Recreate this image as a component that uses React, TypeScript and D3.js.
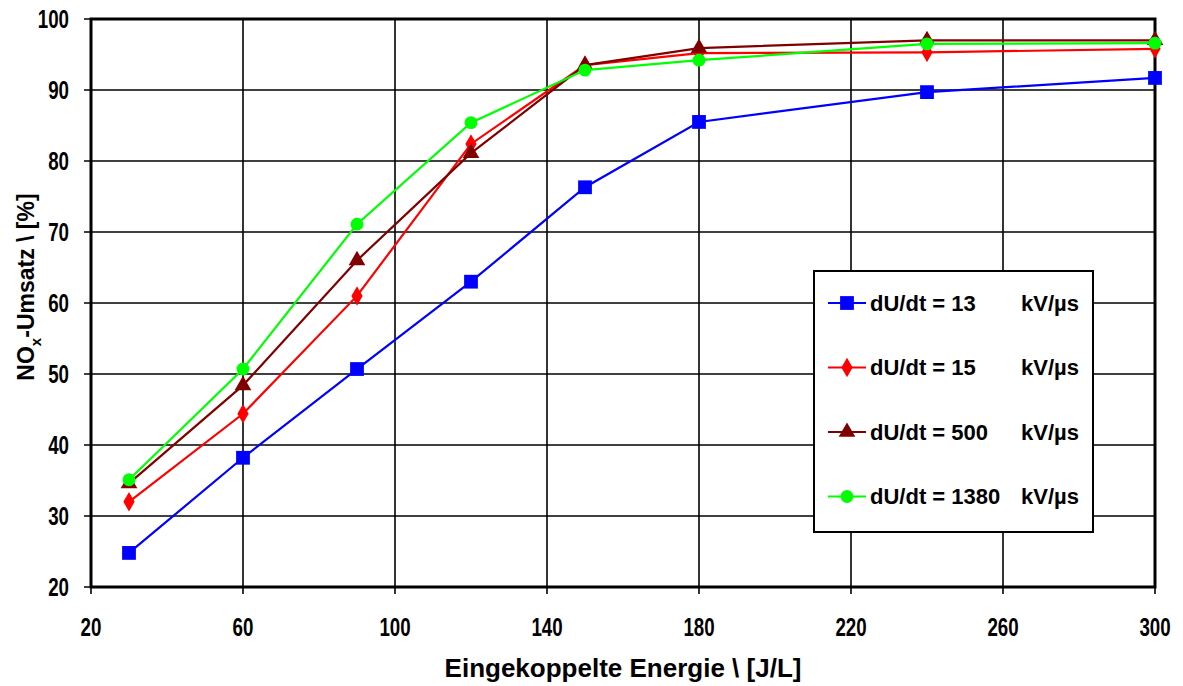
import { useEffect, useRef } from 'react';
import * as d3 from 'd3';

const energy = [30, 60, 90, 120, 150, 180, 240, 300];
const kv13 = [24.8, 38.2, 50.7, 63, 76.3, 85.5, 89.7, 91.7];
const kv15 = [32, 44.4, 61, 82.4, 93.5, 95.2, 95.3, 95.8];
const kv500 = [34.6, 48.4, 66, 81.1, 93.5, 95.9, 97, 97];
const kv1380 = [35.1, 50.7, 71.1, 85.4, 92.8, 94.2, 96.5, 96.6];

const xTicks = [20, 60, 100, 140, 180, 220, 260, 300];
const yTicks = [20, 30, 40, 50, 60, 70, 80, 90, 100];

const seriesLabels = ['dU/dt = 13', 'dU/dt = 15', 'dU/dt = 500', 'dU/dt = 1380'];
const seriesUnit = 'kV/µs';

const App = () => {
    const svgRef = useRef<SVGSVGElement | null>(null);

    useEffect(() => {
        if (!svgRef.current) return;
        const root = d3.select(svgRef.current);
        root.selectAll('*').remove();

        const W = 1183, H = 686;
        const margin = { top: 19, right: 28, bottom: 99, left: 91 };
        const width = W - margin.left - margin.right;
        const height = H - margin.top - margin.bottom;

        root.attr('width', W).attr('height', H);
        root.append('rect').attr('width', W).attr('height', H).attr('fill', '#fff');

        const svg = root.append('g')
            .attr('transform', `translate(${margin.left},${margin.top})`);

        const x = d3.scaleLinear().domain([20, 300]).range([0, width]);
        const y = d3.scaleLinear().domain([20, 100]).range([height, 0]);

        const font = "'Liberation Sans', Arial, sans-serif";

        // grid
        svg.append('g')
            .selectAll('line')
            .data(xTicks)
            .enter()
            .append('line')
            .attr('x1', d => x(d)).attr('x2', d => x(d))
            .attr('y1', 0).attr('y2', height + 7)
            .attr('stroke', '#000').attr('stroke-width', 1.6);

        svg.append('g')
            .selectAll('line')
            .data(yTicks)
            .enter()
            .append('line')
            .attr('x1', -7).attr('x2', width)
            .attr('y1', d => y(d)).attr('y2', d => y(d))
            .attr('stroke', '#000').attr('stroke-width', 1.6);

        // frame
        svg.append('rect')
            .attr('width', width).attr('height', height)
            .attr('fill', 'none')
            .attr('stroke', '#000')
            .attr('stroke-width', 3);

        // tick labels (narrow bold)
        svg.append('g')
            .selectAll('text')
            .data(xTicks)
            .enter()
            .append('text')
            .attr('transform', d => `translate(${x(d)},${height + 49}) scale(0.72,1)`)
            .attr('text-anchor', 'middle')
            .attr('font-family', font)
            .attr('font-weight', 700)
            .attr('font-size', 26)
            .text(d => d);

        svg.append('g')
            .selectAll('text')
            .data(yTicks)
            .enter()
            .append('text')
            .attr('transform', d => `translate(-22,${y(d)}) scale(0.72,1)`)
            .attr('dy', '0.36em')
            .attr('text-anchor', 'end')
            .attr('font-family', font)
            .attr('font-weight', 700)
            .attr('font-size', 26)
            .text(d => d);

        // axis titles
        svg.append('text')
            .attr('x', 623 - margin.left)
            .attr('y', 677 - margin.top)
            .attr('text-anchor', 'middle')
            .attr('font-family', font)
            .attr('font-weight', 700)
            .attr('font-size', 26)
            .text('Eingekoppelte Energie \\ [J/L]');

        const yt = svg.append('text')
            .attr('transform', `translate(-57,${287 - margin.top}) rotate(-90)`)
            .attr('text-anchor', 'middle')
            .attr('font-family', font)
            .attr('font-weight', 700)
            .attr('font-size', 23);
        yt.append('tspan').text('NO');
        yt.append('tspan').attr('font-size', 15).attr('dy', 7).text('x');
        yt.append('tspan').attr('dy', -7).text('-Umsatz \\ [%]');

        const series = [
            { values: kv13, color: '#0000ff', shape: 'square' },
            { values: kv15, color: '#ff0000', shape: 'diamond' },
            { values: kv500, color: '#800000', shape: 'triangle' },
            { values: kv1380, color: '#00ff00', shape: 'circle' }
        ];

        const symbolFor = (shape: string) => {
            if (shape === 'square') return d3.symbol(d3.symbolSquare, 190)();
            if (shape === 'diamond') return d3.symbol(d3.symbolDiamond, 110)();
            if (shape === 'triangle') return d3.symbol(d3.symbolTriangle, 120)();
            return d3.symbol(d3.symbolCircle, 130)();
        };

        const line = d3.line<number>()
            .x((_, i) => x(energy[i]))
            .y(d => y(d));

        series.forEach(s => {
            svg.append('path')
                .datum(s.values)
                .attr('d', line)
                .attr('fill', 'none')
                .attr('stroke', s.color)
                .attr('stroke-width', 2.2);

            svg.append('g')
                .selectAll('path')
                .data(s.values)
                .enter()
                .append('path')
                .attr('d', symbolFor(s.shape))
                .attr('transform', (d, i) => `translate(${x(energy[i])},${y(d)})`)
                .attr('fill', s.color);
        });

        // legend
        const lx = 814 - margin.left, ly = 271 - margin.top;
        const legend = svg.append('g').attr('transform', `translate(${lx},${ly})`);
        legend.append('rect')
            .attr('width', 279).attr('height', 261)
            .attr('fill', '#fff')
            .attr('stroke', '#000')
            .attr('stroke-width', 2);

        series.forEach((s, i) => {
            const cy = 32 + i * 64.5;
            legend.append('line')
                .attr('x1', 14).attr('x2', 52)
                .attr('y1', cy).attr('y2', cy)
                .attr('stroke', s.color).attr('stroke-width', 2.2);
            legend.append('path')
                .attr('d', symbolFor(s.shape))
                .attr('transform', `translate(33,${cy})`)
                .attr('fill', s.color);
            legend.append('text')
                .attr('x', 56).attr('y', cy)
                .attr('dy', '0.36em')
                .attr('font-family', font)
                .attr('font-weight', 700)
                .attr('font-size', 22)
                .text(seriesLabels[i]);
            legend.append('text')
                .attr('x', 265).attr('y', cy)
                .attr('dy', '0.36em')
                .attr('text-anchor', 'end')
                .attr('font-family', font)
                .attr('font-weight', 700)
                .attr('font-size', 22)
                .text(seriesUnit);
        });
    }, []);

    return (
        <div style={{ position: 'absolute', left: 0, top: 0 }}>
            <svg ref={svgRef} style={{ display: 'block' }}></svg>
        </div>
    );
};

export default App;
